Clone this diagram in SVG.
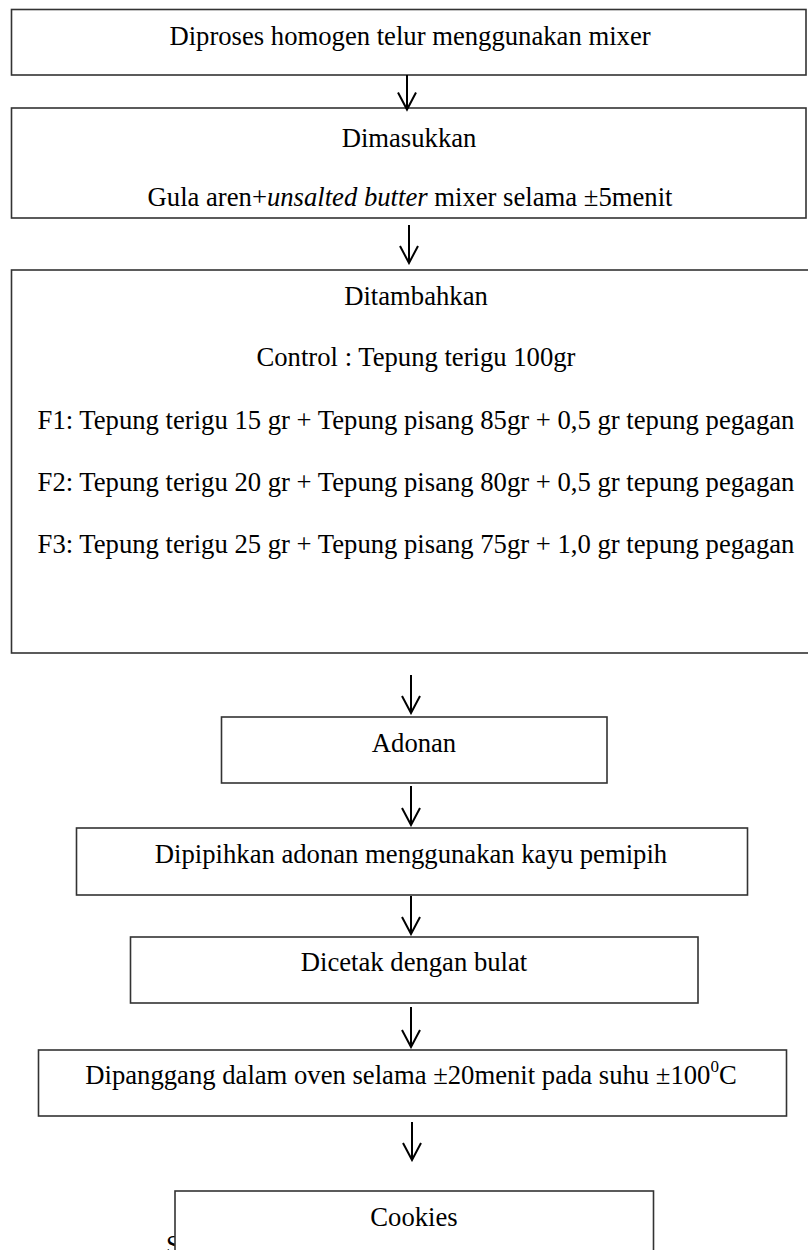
<svg xmlns="http://www.w3.org/2000/svg" width="808" height="1250" viewBox="0 0 808 1250">
<style>
.box{fill:#fff;stroke:#333;stroke-width:1.6}
.t{font-family:"Liberation Serif","Times New Roman",serif;font-size:26.67px;fill:#000;text-anchor:middle}
.c{fill:none;stroke:#000;stroke-width:2}
</style>
<defs>
<marker id="arr" viewBox="-19 -11 21 22" refX="0" refY="0" markerWidth="21" markerHeight="22" markerUnits="userSpaceOnUse" orient="auto">
<path d="M-17,-9 L0,0 L-17,9" fill="none" stroke="#000" stroke-width="2"/>
</marker>
</defs>
<rect width="808" height="1250" fill="#fff"/>
<text class="t" x="166" y="1254" style="text-anchor:start">S</text>
<g id="n1"><rect class="box" x="11.5" y="9.5" width="794.5" height="65.5"/><text class="t" x="410" y="45">Diproses homogen telur menggunakan mixer</text></g>
<g id="n2"><rect class="box" x="11.5" y="108" width="794.5" height="110"/><text class="t" x="409" y="147">Dimasukkan</text><text class="t" x="410" y="206">Gula aren+<tspan font-style="italic">unsalted butter</tspan> mixer selama ±5menit</text></g>
<g id="n3"><rect class="box" x="11.5" y="270" width="820" height="383"/><text class="t" x="416" y="305">Ditambahkan</text><text class="t" x="416" y="366">Control : Tepung terigu 100gr</text><text class="t" x="416" y="429">F1: Tepung terigu 15 gr + Tepung pisang 85gr + 0,5 gr tepung pegagan</text><text class="t" x="416" y="491">F2: Tepung terigu 20 gr + Tepung pisang 80gr + 0,5 gr tepung pegagan</text><text class="t" x="416" y="553">F3: Tepung terigu 25 gr + Tepung pisang 75gr + 1,0 gr tepung pegagan</text></g>
<g id="n4"><rect class="box" x="221.5" y="717" width="385.5" height="66"/><text class="t" x="414" y="752">Adonan</text></g>
<g id="n5"><rect class="box" x="76.5" y="828" width="671" height="67"/><text class="t" x="411" y="863">Dipipihkan adonan menggunakan kayu pemipih</text></g>
<g id="n6"><rect class="box" x="130.5" y="937" width="567.5" height="66"/><text class="t" x="414" y="971">Dicetak dengan bulat</text></g>
<g id="n7"><rect class="box" x="38.5" y="1050" width="748" height="66"/><text class="t" x="411" y="1084">Dipanggang dalam oven selama ±20menit pada suhu ±100<tspan font-size="17" dy="-12">0</tspan><tspan dy="12">C</tspan></text></g>
<g id="n8"><rect class="box" x="175" y="1191" width="478.5" height="80"/><text class="t" x="414" y="1226">Cookies</text></g>
<g id="connectors">
<path class="c" marker-end="url(#arr)" d="M407,75 V109.5"/>
<path class="c" marker-end="url(#arr)" d="M409,225 V263"/>
<path class="c" marker-end="url(#arr)" d="M411,675 V713"/>
<path class="c" marker-end="url(#arr)" d="M411,786 V825"/>
<path class="c" marker-end="url(#arr)" d="M411,896 V934"/>
<path class="c" marker-end="url(#arr)" d="M411,1007 V1047"/>
<path class="c" marker-end="url(#arr)" d="M412,1122 V1160"/>
</g>
</svg>
